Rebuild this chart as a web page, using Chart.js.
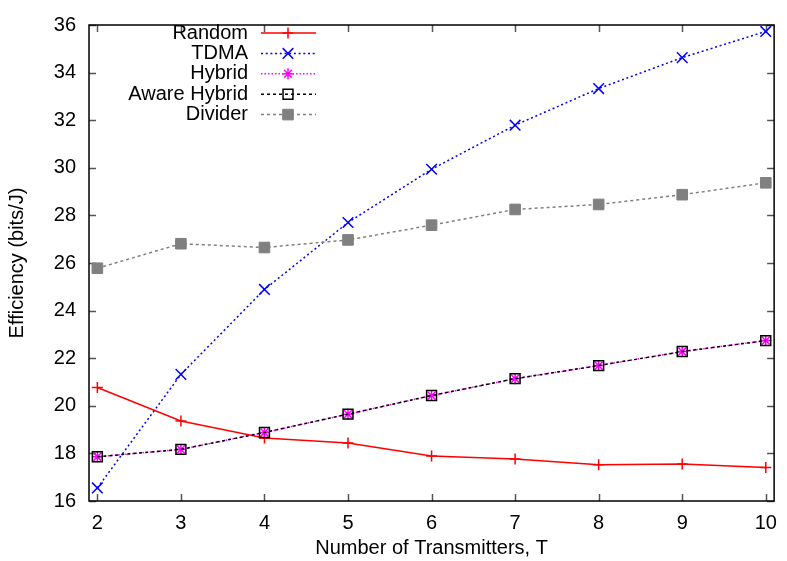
<!DOCTYPE html>
<html>
<head>
<meta charset="utf-8">
<script src="https://cdn.jsdelivr.net/npm/chart.js@4.4.1/dist/chart.umd.min.js"></script>
<style>
  html, body { margin: 0; padding: 0; background: #fff; }
  canvas { display: block; }
</style>
</head>
<body>
<canvas id="chart" width="787" height="561"></canvas>
<script>
/* DATA */
const transmitters   = [2, 3, 4, 5, 6, 7, 8, 9, 10];
const randomEff      = [20.77, 19.36, 18.65, 18.44, 17.89, 17.76, 17.52, 17.55, 17.41];
const tdmaEff        = [16.55, 21.32, 24.89, 27.70, 29.94, 31.79, 33.33, 34.63, 35.73];
const hybridEff      = [17.86, 18.17, 18.88, 19.65, 20.43, 21.14, 21.69, 22.28, 22.74];
const awareHybridEff = [17.86, 18.17, 18.88, 19.65, 20.43, 21.14, 21.69, 22.28, 22.74];
const dividerEff     = [25.78, 26.81, 26.65, 26.97, 27.59, 28.25, 28.46, 28.87, 29.37];
const xTicks = [2, 3, 4, 5, 6, 7, 8, 9, 10];
const yTicks = [16, 18, 20, 22, 24, 26, 28, 30, 32, 34, 36];

const FONT = '"Liberation Sans", Arial, sans-serif';
const pts = arr => transmitters.map((t, i) => ({ x: t, y: arr[i] }));

/* BORDER + INWARD TICKS (gnuplot style, mirrored) */
const frame = {
  id: "frame",
  beforeDatasetsDraw(chart){
    const { ctx, chartArea: a, scales: { x, y } } = chart;
    ctx.save();
    ctx.strokeStyle = "#555";
    ctx.lineWidth = 1.5;
    ctx.beginPath();
    xTicks.forEach(v => {
      const px = Math.round(x.getPixelForValue(v)) + 0.5;
      ctx.moveTo(px, a.bottom); ctx.lineTo(px, a.bottom - 7);
      ctx.moveTo(px, a.top);    ctx.lineTo(px, a.top + 7);
    });
    yTicks.forEach(v => {
      const py = Math.round(y.getPixelForValue(v)) + 0.5;
      ctx.moveTo(a.left, py);  ctx.lineTo(a.left + 7, py);
      ctx.moveTo(a.right, py); ctx.lineTo(a.right - 7, py);
    });
    ctx.stroke();
    ctx.strokeStyle = "#000";
    ctx.lineWidth = 1.5;
    ctx.strokeRect(a.left, a.top, a.right - a.left, a.bottom - a.top);
    ctx.restore();
  }
};

/* LEGEND (inside top-left) */
const legendBox = {
  id: "legendBox",
  afterDatasetsDraw(chart){
    const ctx = chart.ctx;
    ctx.save();
    chart.data.datasets.forEach((ds, i) => {
      const yy = 33 + i * 20.4;
      ctx.font = "20px " + FONT;
      ctx.fillStyle = "#000";
      ctx.textAlign = "right";
      ctx.textBaseline = "middle";
      ctx.fillText(ds.label, 248, yy);

      ctx.strokeStyle = ds.borderColor;
      ctx.lineWidth = ds.borderWidth;
      ctx.setLineDash(ds.borderDash || []);
      ctx.beginPath(); ctx.moveTo(261, yy); ctx.lineTo(316, yy); ctx.stroke();
      ctx.setLineDash([]);

      ctx.fillStyle = ds.pointBackgroundColor;
      ctx.strokeStyle = ds.pointBorderColor;
      ctx.lineWidth = ds.pointBorderWidth;
      Chart.helpers.drawPoint(ctx, {
        pointStyle: ds.pointStyle, radius: ds.pointRadius, rotation: 0, borderWidth: ds.pointBorderWidth
      }, 288, yy);
    });
    ctx.restore();
  }
};

new Chart(document.getElementById("chart"), {
  type: "line",
  data: {
    datasets: [
      { label: "Random", data: pts(randomEff), order: 5,
        borderColor: "#ff0000", borderWidth: 1.5,
        pointStyle: "cross", pointRadius: 5.5, pointBorderColor: "#ff0000", pointBackgroundColor: "#ff0000", pointBorderWidth: 1.5 },
      { label: "TDMA", data: pts(tdmaEff), order: 4,
        borderColor: "#0000ff", borderWidth: 1.5, borderDash: [2, 2.7],
        pointStyle: "crossRot", pointRadius: 7.5, pointBorderColor: "#0000ff", pointBackgroundColor: "#0000ff", pointBorderWidth: 1.5 },
      { label: "Hybrid", data: pts(hybridEff), order: 3,
        borderColor: "#ff00ff", borderWidth: 1.5, borderDash: [1.5, 2],
        pointStyle: "star", pointRadius: 5.5, pointBorderColor: "#ff00ff", pointBackgroundColor: "#ff00ff", pointBorderWidth: 1.5 },
      { label: "Aware Hybrid", data: pts(awareHybridEff), order: 2,
        borderColor: "#000000", borderWidth: 1.5, borderDash: [3, 3],
        pointStyle: "rect", pointRadius: 7, pointBorderColor: "#000000", pointBackgroundColor: "rgba(0,0,0,0)", pointBorderWidth: 1.5 },
      { label: "Divider", data: pts(dividerEff), order: 1,
        borderColor: "#808080", borderWidth: 1.5, borderDash: [3, 3],
        pointStyle: "rect", pointRadius: 7.5, pointBorderColor: "#808080", pointBackgroundColor: "#808080", pointBorderWidth: 1 }
    ]
  },
  options: {
    responsive: false,
    devicePixelRatio: 1,
    animation: false,
    layout: { padding: { left: 0, right: 8, top: 15, bottom: 0 } },
    plugins: { legend: { display: false }, tooltip: { enabled: false } },
    elements: { line: { tension: 0 } },
    scales: {
      x: {
        type: "linear", min: 1.9, max: 10.1,
        afterBuildTicks: s => { s.ticks = xTicks.map(v => ({ value: v })); },
        afterFit: s => { s.height = 60; },
        grid: { display: false, drawTicks: false },
        border: { display: false },
        ticks: { color: "#000", font: { family: FONT, size: 20 }, padding: 10, maxRotation: 0, autoSkip: false },
        title: { display: true, text: "Number of Transmitters, T", color: "#000",
                 font: { family: FONT, size: 20 }, padding: { top: 0, bottom: 1 } }
      },
      y: {
        min: 16, max: 36,
        afterBuildTicks: s => { s.ticks = yTicks.map(v => ({ value: v })); },
        afterFit: s => { s.width = 89; },
        grid: { display: false, drawTicks: false },
        border: { display: false },
        ticks: { color: "#000", font: { family: FONT, size: 20 }, padding: 13 },
        title: { display: true, text: "Efficiency (bits/J)", color: "#000",
                 font: { family: FONT, size: 20 }, padding: { top: 5, bottom: 0 } }
      }
    }
  },
  plugins: [frame, legendBox]
});
</script>
</body>
</html>
